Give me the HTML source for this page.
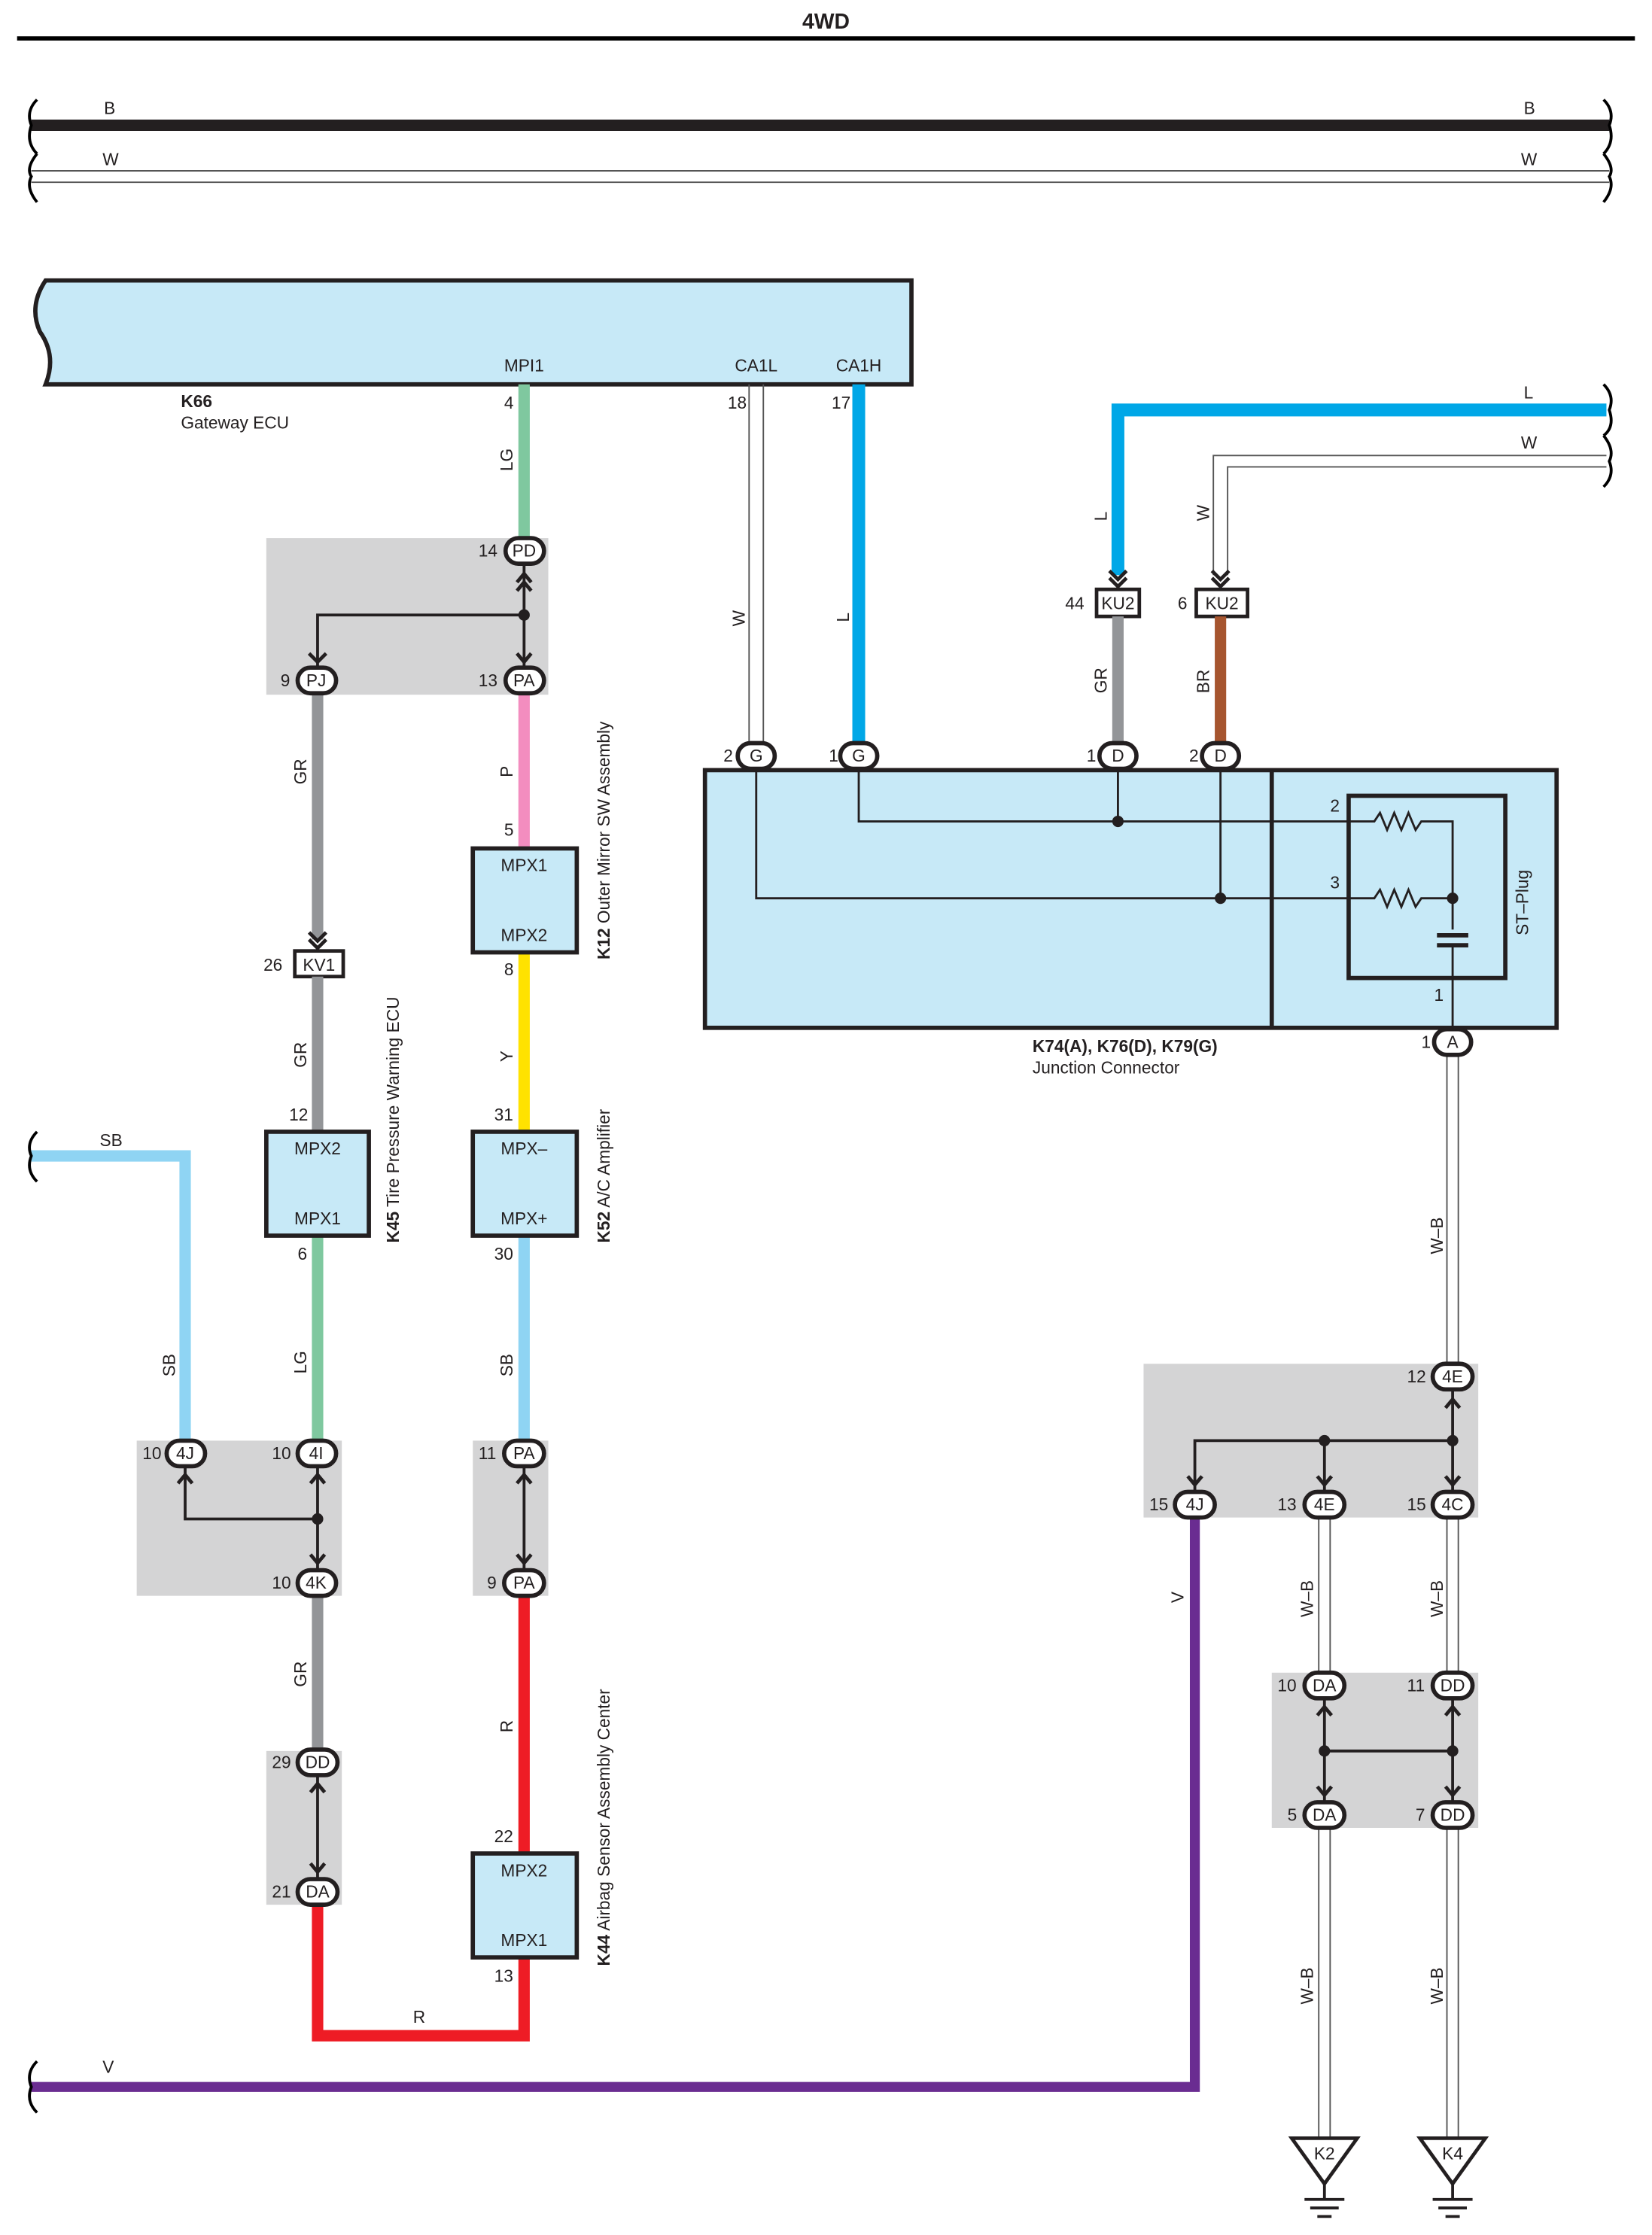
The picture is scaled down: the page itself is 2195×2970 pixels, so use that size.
<!DOCTYPE html>
<html><head><meta charset="utf-8"><style>
html,body{margin:0;padding:0;background:#fff;}
svg{display:block;}
text{font-family:"Liberation Sans",sans-serif;font-size:12px;fill:#231f20;}
.b{font-weight:bold;}
</style></head><body>
<svg width="2195" height="2970" viewBox="0 0 1160 1570" preserveAspectRatio="none" xmlns="http://www.w3.org/2000/svg">
<defs>
<g id="chev"><polyline points="-6,-4 0,2 6,-4" fill="none" stroke="#231f20" stroke-width="2.5"/><polyline points="-6,-9 0,-3 6,-9" fill="none" stroke="#231f20" stroke-width="2.5"/></g>
</defs>
<text x="580" y="20" class="b" text-anchor="middle" style="font-size:15px">4WD</text>
<line x1="12" y1="27" x2="1148" y2="27" stroke="#000" stroke-width="3"/>
<line x1="22" y1="88" x2="1130" y2="88" stroke="#231f20" stroke-width="8"/>
<line x1="22" y1="120" x2="1130" y2="120" stroke="#555" stroke-width="1"/>
<line x1="22" y1="128" x2="1130" y2="128" stroke="#555" stroke-width="1"/>
<path d="M26,70 Q18,78 22,88 Q18,100 26,108 M26,108 Q18,118 22,124 Q18,132 26,142" fill="none" stroke="#000" stroke-width="2"/>
<path d="M1126,70 Q1134,78 1130,88 Q1134,100 1126,108 M1126,108 Q1134,118 1130,124 Q1134,132 1126,142" fill="none" stroke="#000" stroke-width="2"/>
<text x="73" y="80">B</text><text x="1070" y="80">B</text>
<text x="72" y="116">W</text><text x="1068" y="116">W</text>
<path d="M32,197 H640 V270 H32 Q40,250 28,233 Q20,215 32,197 Z" fill="#c7e9f7" stroke="#231f20" stroke-width="3"/>
<text x="368" y="261" text-anchor="middle">MPI1</text>
<text x="531" y="261" text-anchor="middle">CA1L</text>
<text x="603" y="261" text-anchor="middle">CA1H</text>
<text x="127" y="286" class="b">K66</text><text x="127" y="301">Gateway ECU</text>
<text x="354" y="287">4</text><text x="511" y="287">18</text><text x="584" y="287">17</text>
<rect x="187" y="378" width="198" height="110" fill="#d4d4d5"/>
<rect x="96" y="1012" width="144" height="109" fill="#d4d4d5"/>
<rect x="332" y="1012" width="53" height="109" fill="#d4d4d5"/>
<rect x="187" y="1230" width="53" height="108" fill="#d4d4d5"/>
<rect x="803" y="958" width="235" height="108" fill="#d4d4d5"/>
<rect x="893" y="1175" width="145" height="109" fill="#d4d4d5"/>
<line x1="368" y1="270" x2="368" y2="380" stroke="#7fc89f" stroke-width="8"/>
<line x1="526" y1="270" x2="526" y2="524" stroke="#555" stroke-width="1"/>
<line x1="536" y1="270" x2="536" y2="524" stroke="#555" stroke-width="1"/>
<line x1="603" y1="270" x2="603" y2="524" stroke="#00a7e7" stroke-width="9"/>
<polyline points="1128,288 785,288 785,404" fill="none" stroke="#00a7e7" stroke-width="9"/>
<polyline points="1128,320 852,320 852,404" fill="none" stroke="#555" stroke-width="1"/>
<polyline points="1128,328 862,328 862,404" fill="none" stroke="#555" stroke-width="1"/>
<path d="M1126,270 Q1134,278 1130,288 Q1134,300 1126,306 M1126,306 Q1134,316 1130,324 Q1134,334 1126,342" fill="none" stroke="#000" stroke-width="2"/>
<text x="1070" y="280">L</text><text x="1068" y="315">W</text>
<use href="#chev" x="785" y="410"/><use href="#chev" x="857" y="410"/>
<rect x="770" y="414" width="30" height="19" fill="#fff" stroke="#231f20" stroke-width="2.5"/>
<rect x="840" y="414" width="36" height="19" fill="#fff" stroke="#231f20" stroke-width="2.5"/>
<text x="785" y="428" text-anchor="middle">KU2</text><text x="858" y="428" text-anchor="middle">KU2</text>
<text x="748" y="428">44</text><text x="827" y="428">6</text>
<line x1="785" y1="433" x2="785" y2="524" stroke="#939598" stroke-width="8"/>
<line x1="857" y1="433" x2="857" y2="524" stroke="#a6552f" stroke-width="8"/>
<rect x="495" y="541" width="598" height="181" fill="#c7e9f7" stroke="#231f20" stroke-width="3"/>
<line x1="893" y1="541" x2="893" y2="722" stroke="#231f20" stroke-width="3"/>
<rect x="947" y="559" width="110" height="128" fill="none" stroke="#231f20" stroke-width="3"/>
<g fill="none" stroke="#231f20" stroke-width="1.5">
<polyline points="603,531 603,577 965,577 969,571 974,583 979,571 984,583 989,571 994,583 998,577 1020,577 1020,653"/>
<polyline points="531,531 531,631 965,631 969,625 974,637 979,625 984,637 989,625 994,637 998,631 1020,631"/>
<line x1="785" y1="531" x2="785" y2="577"/><line x1="857" y1="531" x2="857" y2="631"/>
<line x1="1020" y1="664" x2="1020" y2="724"/>
</g>
<line x1="1009" y1="657" x2="1031" y2="657" stroke="#231f20" stroke-width="3"/>
<line x1="1009" y1="664" x2="1031" y2="664" stroke="#231f20" stroke-width="3"/>
<circle cx="785" cy="577" r="4" fill="#231f20"/><circle cx="857" cy="631" r="4" fill="#231f20"/><circle cx="1020" cy="631" r="4" fill="#231f20"/>
<text x="934" y="570">2</text><text x="934" y="624">3</text><text x="1007" y="703">1</text>
<text transform="translate(1073,657) rotate(-90)">ST–Plug</text>
<text x="725" y="739" class="b">K74(A), K76(D), K79(G)</text><text x="725" y="754">Junction Connector</text>
<text x="998" y="736">1</text>
<g stroke="#555" stroke-width="1">
<line x1="1016" y1="740" x2="1016" y2="960"/><line x1="1024" y1="740" x2="1024" y2="960"/>
<line x1="926" y1="1065" x2="926" y2="1177"/><line x1="934" y1="1065" x2="934" y2="1177"/>
<line x1="1016" y1="1065" x2="1016" y2="1177"/><line x1="1024" y1="1065" x2="1024" y2="1177"/>
<line x1="926" y1="1283" x2="926" y2="1502"/><line x1="934" y1="1283" x2="934" y2="1502"/>
<line x1="1016" y1="1283" x2="1016" y2="1502"/><line x1="1024" y1="1283" x2="1024" y2="1502"/>
</g>
<polyline points="839,1066 839,1466 22,1466" fill="none" stroke="#6a2c91" stroke-width="7"/>
<path d="M26,1448 Q18,1456 22,1466 Q18,1476 26,1484" fill="none" stroke="#000" stroke-width="2"/>
<text x="72" y="1456">V</text>
<g fill="none" stroke="#231f20" stroke-width="2">
<polyline points="1020,975 1020,1012 839,1012 839,1048"/><line x1="930" y1="1012" x2="930" y2="1048"/><line x1="1020" y1="1012" x2="1020" y2="1048"/>
<line x1="930" y1="1193" x2="930" y2="1266"/><line x1="1020" y1="1193" x2="1020" y2="1266"/><line x1="930" y1="1230" x2="1020" y2="1230"/>
</g>
<circle cx="930" cy="1012" r="4" fill="#231f20"/><circle cx="1020" cy="1012" r="4" fill="#231f20"/>
<circle cx="930" cy="1230" r="4" fill="#231f20"/><circle cx="1020" cy="1230" r="4" fill="#231f20"/>
<g fill="#fff" stroke="#231f20" stroke-width="2.5">
<polygon points="907,1502 953,1502 930,1534"/><polygon points="997,1502 1043,1502 1020,1534"/>
</g>
<text x="930" y="1517" text-anchor="middle">K2</text><text x="1020" y="1517" text-anchor="middle">K4</text>
<g stroke="#231f20" stroke-width="2">
<line x1="930" y1="1534" x2="930" y2="1545"/><line x1="916" y1="1545" x2="944" y2="1545"/><line x1="920" y1="1551" x2="940" y2="1551"/><line x1="925" y1="1557" x2="935" y2="1557"/>
<line x1="1020" y1="1534" x2="1020" y2="1545"/><line x1="1006" y1="1545" x2="1034" y2="1545"/><line x1="1010" y1="1551" x2="1030" y2="1551"/><line x1="1015" y1="1557" x2="1025" y2="1557"/>
</g>
<line x1="223" y1="486" x2="223" y2="660" stroke="#939598" stroke-width="8"/>
<use href="#chev" x="223" y="664"/>
<rect x="207" y="668" width="34" height="18" fill="#fff" stroke="#231f20" stroke-width="2.5"/>
<text x="224" y="682" text-anchor="middle">KV1</text><text x="185" y="682">26</text>
<line x1="223" y1="686" x2="223" y2="795" stroke="#939598" stroke-width="8"/>
<line x1="368" y1="486" x2="368" y2="596" stroke="#f38dbf" stroke-width="8"/>
<line x1="368" y1="669" x2="368" y2="795" stroke="#ffe200" stroke-width="8"/>
<line x1="368" y1="868" x2="368" y2="1014" stroke="#8fd4f3" stroke-width="8"/>
<polyline points="22,812 130,812 130,1014" fill="none" stroke="#8fd4f3" stroke-width="8"/>
<path d="M26,795 Q18,803 22,812 Q18,822 26,830" fill="none" stroke="#000" stroke-width="2"/>
<text x="70" y="805">SB</text>
<line x1="223" y1="868" x2="223" y2="1014" stroke="#7fc89f" stroke-width="8"/>
<line x1="223" y1="1120" x2="223" y2="1231" stroke="#939598" stroke-width="8"/>
<polyline points="223,1337 223,1430 368,1430 368,1375" fill="none" stroke="#ee1c25" stroke-width="8"/>
<line x1="368" y1="1120" x2="368" y2="1302" stroke="#ee1c25" stroke-width="8"/>
<text x="290" y="1421">R</text>
<g fill="none" stroke="#231f20" stroke-width="2">
<polyline points="368,395 368,432 223,432 223,470"/><line x1="368" y1="432" x2="368" y2="470"/>
<polyline points="130,1029 130,1067 223,1067"/><line x1="223" y1="1029" x2="223" y2="1104"/>
<line x1="368" y1="1029" x2="368" y2="1104"/><line x1="223" y1="1246" x2="223" y2="1321"/>
</g>
<circle cx="368" cy="432" r="4" fill="#231f20"/><circle cx="223" cy="1067" r="4" fill="#231f20"/>
<g fill="#c7e9f7" stroke="#231f20" stroke-width="3">
<rect x="187" y="795" width="72" height="73"/><rect x="332" y="596" width="73" height="73"/>
<rect x="332" y="795" width="73" height="73"/><rect x="332" y="1302" width="73" height="73"/>
</g>
<text x="223" y="811" text-anchor="middle">MPX2</text><text x="223" y="860" text-anchor="middle">MPX1</text>
<text x="368" y="612" text-anchor="middle">MPX1</text><text x="368" y="661" text-anchor="middle">MPX2</text>
<text x="368" y="811" text-anchor="middle">MPX–</text><text x="368" y="860" text-anchor="middle">MPX+</text>
<text x="368" y="1318" text-anchor="middle">MPX2</text><text x="368" y="1367" text-anchor="middle">MPX1</text>
<text x="203" y="787">12</text><text x="209" y="885">6</text>
<text x="354" y="587">5</text><text x="354" y="685">8</text>
<text x="347" y="787">31</text><text x="347" y="885">30</text>
<text x="347" y="1294">22</text><text x="347" y="1392">13</text>
<text transform="translate(280,873) rotate(-90)"><tspan class="b">K45</tspan> Tire Pressure Warning ECU</text>
<text transform="translate(428,674) rotate(-90)"><tspan class="b">K12</tspan> Outer Mirror SW Assembly</text>
<text transform="translate(428,873) rotate(-90)"><tspan class="b">K52</tspan> A/C Amplifier</text>
<text transform="translate(428,1381) rotate(-90)"><tspan class="b">K44</tspan> Airbag Sensor Assembly Center</text>
<g>
<text transform="translate(360,331) rotate(-90)">LG</text>
<text transform="translate(523,440) rotate(-90)">W</text>
<text transform="translate(596,437) rotate(-90)">L</text>
<text transform="translate(777,366) rotate(-90)">L</text>
<text transform="translate(849,366) rotate(-90)">W</text>
<text transform="translate(777,487) rotate(-90)">GR</text>
<text transform="translate(849,487) rotate(-90)">BR</text>
<text transform="translate(215,551) rotate(-90)">GR</text>
<text transform="translate(360,546) rotate(-90)">P</text>
<text transform="translate(215,750) rotate(-90)">GR</text>
<text transform="translate(360,746) rotate(-90)">Y</text>
<text transform="translate(123,967) rotate(-90)">SB</text>
<text transform="translate(215,965) rotate(-90)">LG</text>
<text transform="translate(360,967) rotate(-90)">SB</text>
<text transform="translate(215,1185) rotate(-90)">GR</text>
<text transform="translate(360,1217) rotate(-90)">R</text>
<text transform="translate(831,1126) rotate(-90)">V</text>
<text transform="translate(1013,881) rotate(-90)">W–B</text>
<text transform="translate(922,1136) rotate(-90)">W–B</text>
<text transform="translate(1013,1136) rotate(-90)">W–B</text>
<text transform="translate(922,1408) rotate(-90)">W–B</text>
<text transform="translate(1013,1408) rotate(-90)">W–B</text>
</g>
<g fill="#fff" stroke="#231f20" stroke-width="3">
<rect x="355" y="378" width="27" height="18" rx="9"/>
<rect x="209" y="469" width="27" height="18" rx="9"/><rect x="355" y="469" width="27" height="18" rx="9"/>
<rect x="518" y="522" width="26" height="18" rx="9"/><rect x="590" y="522" width="26" height="18" rx="9"/>
<rect x="772" y="522" width="26" height="18" rx="9"/><rect x="844" y="522" width="26" height="18" rx="9"/>
<rect x="1007" y="723" width="26" height="18" rx="9"/>
<rect x="1006" y="958" width="28" height="18" rx="9"/>
<rect x="825" y="1048" width="28" height="18" rx="9"/><rect x="916" y="1048" width="28" height="18" rx="9"/><rect x="1006" y="1048" width="28" height="18" rx="9"/>
<rect x="916" y="1175" width="28" height="18" rx="9"/><rect x="1006" y="1175" width="28" height="18" rx="9"/>
<rect x="916" y="1266" width="28" height="18" rx="9"/><rect x="1006" y="1266" width="28" height="18" rx="9"/>
<rect x="117" y="1012" width="27" height="18" rx="9"/><rect x="209" y="1012" width="27" height="18" rx="9"/><rect x="209" y="1103" width="27" height="18" rx="9"/>
<rect x="354" y="1012" width="28" height="18" rx="9"/><rect x="354" y="1103" width="28" height="18" rx="9"/>
<rect x="209" y="1229" width="28" height="18" rx="9"/><rect x="209" y="1320" width="28" height="18" rx="9"/>
</g>
<g text-anchor="middle">
<text x="368" y="391">PD</text><text x="222" y="482">PJ</text><text x="368" y="482">PA</text>
<text x="531" y="535">G</text><text x="603" y="535">G</text><text x="785" y="535">D</text><text x="857" y="535">D</text>
<text x="1020" y="736">A</text><text x="1020" y="971">4E</text>
<text x="839" y="1061">4J</text><text x="930" y="1061">4E</text><text x="1020" y="1061">4C</text>
<text x="930" y="1188">DA</text><text x="1020" y="1188">DD</text><text x="930" y="1279">DA</text><text x="1020" y="1279">DD</text>
<text x="130" y="1025">4J</text><text x="222" y="1025">4I</text><text x="222" y="1116">4K</text>
<text x="368" y="1025">PA</text><text x="368" y="1116">PA</text>
<text x="223" y="1242">DD</text><text x="223" y="1333">DA</text>
</g>
<text x="336" y="391">14</text><text x="197" y="482">9</text><text x="336" y="482">13</text>
<text x="508" y="535">2</text><text x="582" y="535">1</text><text x="763" y="535">1</text><text x="835" y="535">2</text>
<text x="988" y="971">12</text><text x="807" y="1061">15</text><text x="897" y="1061">13</text><text x="988" y="1061">15</text>
<text x="897" y="1188">10</text><text x="988" y="1188">11</text><text x="904" y="1279">5</text><text x="994" y="1279">7</text>
<text x="100" y="1025">10</text><text x="191" y="1025">10</text><text x="191" y="1116">10</text>
<text x="336" y="1025">11</text><text x="342" y="1116">9</text>
<text x="191" y="1242">29</text><text x="191" y="1333">21</text>
<g fill="none" stroke="#231f20" stroke-width="2.5">
<polyline points="363,409 368,403 373,409"/><polyline points="363,415 368,409 373,415"/>
<polyline points="217,459 223,465 229,459"/><polyline points="363,459 368,465 373,459"/>
<polyline points="125,1042 130,1036 135,1042"/><polyline points="218,1042 223,1036 228,1042"/><polyline points="218,1092 223,1098 228,1092"/>
<polyline points="363,1042 368,1036 373,1042"/><polyline points="363,1092 368,1098 373,1092"/>
<polyline points="218,1259 223,1253 228,1259"/><polyline points="218,1309 223,1315 228,1309"/>
<polyline points="1015,989 1020,983 1025,989"/>
<polyline points="834,1037 839,1043 844,1037"/><polyline points="925,1037 930,1043 935,1037"/><polyline points="1015,1037 1020,1043 1025,1037"/>
<polyline points="925,1205 930,1199 935,1205"/><polyline points="1015,1205 1020,1199 1025,1205"/>
<polyline points="925,1255 930,1261 935,1255"/><polyline points="1015,1255 1020,1261 1025,1255"/>
</g>
</svg>
</body></html>
